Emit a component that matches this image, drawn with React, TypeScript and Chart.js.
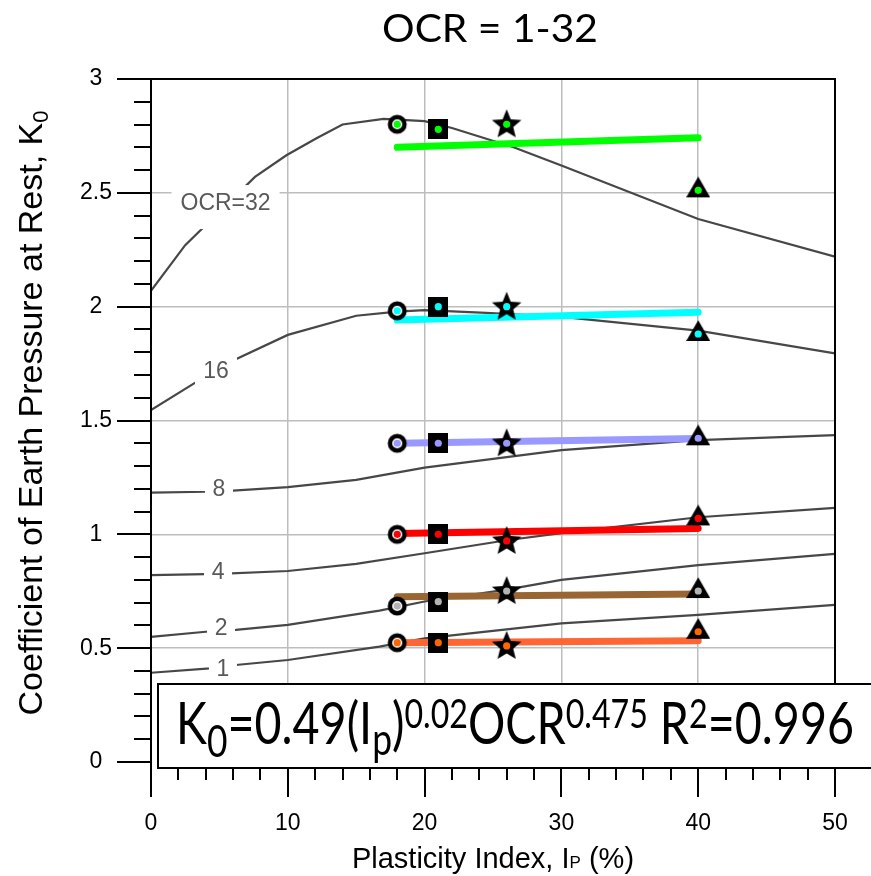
import React, { useEffect, useRef } from "react";
import { Chart, registerables } from "chart.js";

Chart.register(...registerables);

const W = 871;
const H = 876;
const SANS = '"Liberation Sans", Arial, sans-serif';
const CAL = 'Lato, "Open Sans", sans-serif';

// ---- measured data points (Ip in %, K0) ----
const markerIp = [18, 21, 26, 40];
const k0Ocr32 = [2.801, 2.779, 2.801, 2.511];
const k0Ocr16 = [1.982, 2.0, 2.0, 1.88];
const k0Ocr8 = [1.4, 1.4, 1.4, 1.422];
const k0Ocr4 = [1.0, 1.0, 0.971, 1.07];
const k0Ocr2 = [0.685, 0.704, 0.751, 0.751];
const k0Ocr1 = [0.524, 0.524, 0.51, 0.572];

// ---- fitted lines ----
const fitIp = [18, 40];
const fitOcr32 = [2.7, 2.742];
const fitOcr16 = [1.941, 1.975];
const fitOcr8 = [1.4, 1.421];
const fitOcr4 = [1.004, 1.026];
const fitOcr2 = [0.726, 0.738];
const fitOcr1 = [0.524, 0.533];

// ---- OCR contour curves ----
const curve32Ip = [0, 2.5, 7.6, 9.9, 12.1, 14, 17, 20, 22, 26.5, 30, 40, 50];
const curve32K = [2.07, 2.27, 2.57, 2.665, 2.74, 2.8, 2.825, 2.815, 2.785, 2.7, 2.62, 2.385, 2.22];
const curve16Ip = [0, 3.15, 6.2, 10, 15, 18, 20, 24.5, 30, 40, 50];
const curve16K = [1.546, 1.663, 1.769, 1.876, 1.96, 1.978, 1.985, 1.973, 1.955, 1.895, 1.795];
const curve8Ip = [0, 4, 6, 10, 15, 20, 30, 40, 50];
const curve8K = [1.183, 1.187, 1.192, 1.207, 1.239, 1.293, 1.37, 1.414, 1.436];
const curve4Ip = [0, 5, 10, 15, 20, 26, 30, 40, 50];
const curve4K = [0.821, 0.826, 0.839, 0.87, 0.917, 0.974, 1.005, 1.075, 1.116];
const curve2Ip = [0, 4, 6.2, 10, 16.7, 20, 26, 30, 40, 50];
const curve2K = [0.55, 0.572, 0.58, 0.602, 0.665, 0.705, 0.757, 0.8, 0.865, 0.914];
const curve1Ip = [0, 4.3, 6.2, 10, 16.7, 20, 30, 40, 50];
const curve1K = [0.392, 0.411, 0.426, 0.448, 0.507, 0.543, 0.609, 0.646, 0.69];

const contourLabels = ["OCR=32", "16", "8", "4", "2", "1"];
const titleText = "OCR = 1-32";

const dotColors = ["#00ff00", "#00ffff", "#9999ff", "#ff0000", "#b3b3b3", "#ff6600"];
const fitColors = ["#00ff00", "#00ffff", "#9999ff", "#ff0000", "#996633", "#ff6633"];

const toPts = (xs: number[], ys: number[]) => xs.map((v, i) => ({ x: v, y: ys[i] }));

function makeCanvas(w: number, h: number, draw: (c: CanvasRenderingContext2D) => void) {
  const c = document.createElement("canvas");
  c.width = w;
  c.height = h;
  const ctx = c.getContext("2d")!;
  draw(ctx);
  return c;
}

function makeMarkers() {
  const circle = makeCanvas(22, 22, (c) => {
    c.beginPath();
    c.arc(11, 11, 7.3, 0, Math.PI * 2);
    c.fillStyle = "#fff";
    c.fill();
    c.lineWidth = 4.4;
    c.strokeStyle = "#000";
    c.stroke();
  });
  const square = makeCanvas(20, 20, (c) => {
    c.fillStyle = "#000";
    c.fillRect(0, 0, 20, 20);
  });
  const star = makeCanvas(32, 32, (c) => {
    const R = 15.5, r = 6.9;
    c.beginPath();
    for (let i = 0; i < 10; i++) {
      const ang = -Math.PI / 2 + (i * Math.PI) / 5;
      const rad = i % 2 === 0 ? R : r;
      const px = 16 + rad * Math.cos(ang);
      const py = 16.5 + rad * Math.sin(ang);
      if (i === 0) c.moveTo(px, py);
      else c.lineTo(px, py);
    }
    c.closePath();
    c.fillStyle = "#000";
    c.fill();
  });
  const side = 24;
  const th = (side * Math.sqrt(3)) / 2;
  const tri = makeCanvas(24, 28, (c) => {
    const cy = 14;
    c.beginPath();
    c.moveTo(12, cy - (2 * th) / 3);
    c.lineTo(24, cy + th / 3);
    c.lineTo(0, cy + th / 3);
    c.closePath();
    c.fillStyle = "#000";
    c.fill();
  });
  return [circle, square, star, tri];
}

type Run = { t: string; size: number; dy: number };

function runsWidth(ctx: CanvasRenderingContext2D, runs: Run[], family: string) {
  let w = 0;
  runs.forEach((r) => {
    ctx.font = `${r.size}px ${family}`;
    w += ctx.measureText(r.t).width;
  });
  return w;
}

function drawRuns(ctx: CanvasRenderingContext2D, runs: Run[], family: string, x0: number) {
  let cx = x0;
  ctx.textAlign = "left";
  ctx.textBaseline = "alphabetic";
  runs.forEach((r) => {
    ctx.font = `${r.size}px ${family}`;
    ctx.fillText(r.t, cx, r.dy);
    cx += ctx.measureText(r.t).width;
  });
}

const decor = {
  id: "decor",
  afterDraw(chart: any) {
    const { ctx, chartArea: a, scales } = chart;
    const xs = scales.x;
    const ys = scales.y;
    ctx.save();

    // contour labels with white backgrounds
    const spots = [
      { ip: 5.45, k: 2.455, w: 108, h: 44, oy: 4 },
      { ip: 4.75, k: 1.717, w: 42, h: 28, oy: 0 },
      { ip: 4.97, k: 1.2, w: 28, h: 26, oy: 0 },
      { ip: 4.9, k: 0.835, w: 28, h: 26, oy: 0 },
      { ip: 5.12, k: 0.589, w: 28, h: 26, oy: 0 },
      { ip: 5.26, k: 0.409, w: 28, h: 26, oy: 0 },
    ];
    ctx.font = `23px ${SANS}`;
    ctx.textAlign = "center";
    ctx.textBaseline = "middle";
    spots.forEach((s, i) => {
      const px = xs.getPixelForValue(s.ip);
      const py = ys.getPixelForValue(s.k);
      ctx.fillStyle = "#fff";
      ctx.fillRect(px - s.w / 2, py - s.h / 2 + s.oy, s.w, s.h);
      ctx.fillStyle = "#595959";
      ctx.fillText(contourLabels[i], px, py + 1);
    });

    // axes frame and ticks
    const line = (x1: number, y1: number, x2: number, y2: number) => {
      ctx.beginPath();
      ctx.moveTo(x1, y1);
      ctx.lineTo(x2, y2);
      ctx.stroke();
    };
    ctx.strokeStyle = "#000";
    ctx.lineWidth = 2;
    ctx.lineCap = "butt";
    for (let i = 0; i <= 30; i++) {
      const py = Math.round(ys.getPixelForValue(i / 10));
      const len = i % 5 === 0 ? 34 : 17;
      line(a.left - len, py, a.left, py);
    }
    for (let v = 0; v <= 50; v += 2) {
      const px = Math.round(xs.getPixelForValue(v));
      const end = v % 10 === 0 ? a.bottom + 35 : a.bottom + 18;
      line(px, a.bottom + 5, px, end);
    }
    line(a.left, a.top - 1, a.left, a.bottom + 35);
    line(a.left - 34, a.top, a.right + 1, a.top);
    line(a.right, a.top, a.right, a.bottom);

    // equation box
    const boxTop = a.bottom - 78;
    const boxBottom = a.bottom + 6;
    ctx.fillStyle = "#fff";
    ctx.fillRect(158, boxTop, 760, boxBottom - boxTop);
    ctx.strokeRect(158, boxTop, 760, boxBottom - boxTop);
    const eq: Run[] = [
      { t: "K", size: 58, dy: 0 },
      { t: "0", size: 44, dy: 13 },
      { t: "=0.49(I", size: 58, dy: 0 },
      { t: "p", size: 44, dy: 11 },
      { t: ")", size: 58, dy: 0 },
      { t: "0.02", size: 40, dy: -16 },
      { t: "OCR", size: 58, dy: 0 },
      { t: "0.475", size: 40, dy: -16 },
      { t: " R", size: 58, dy: 0 },
      { t: "2", size: 40, dy: -16 },
      { t: "=0.996", size: 58, dy: 0 },
    ];
    const eqW = runsWidth(ctx, eq, CAL);
    ctx.fillStyle = "#000";
    ctx.save();
    ctx.translate(176, boxTop + 60);
    ctx.scale(678 / eqW, 1);
    drawRuns(ctx, eq, CAL, 0);
    ctx.restore();

    // chart title
    const tRuns: Run[] = [{ t: titleText, size: 39, dy: 0 }];
    const tW = runsWidth(ctx, tRuns, CAL);
    ctx.save();
    ctx.translate(490, 42);
    ctx.scale(216 / tW, 1);
    drawRuns(ctx, tRuns, CAL, -tW / 2);
    ctx.restore();

    // x axis title
    const xRuns: Run[] = [
      { t: "Plasticity Index, I", size: 29, dy: 0 },
      { t: "P", size: 17, dy: 0 },
      { t: " (%)", size: 29, dy: 0 },
    ];
    const xW = runsWidth(ctx, xRuns, SANS);
    ctx.save();
    ctx.translate((a.left + a.right) / 2, 868);
    drawRuns(ctx, xRuns, SANS, -xW / 2);
    ctx.restore();

    // y axis title
    const yRuns: Run[] = [
      { t: "Coefficient of Earth Pressure at Rest, K", size: 34, dy: 0 },
      { t: "0", size: 22, dy: 6 },
    ];
    const yW = runsWidth(ctx, yRuns, SANS);
    ctx.save();
    ctx.translate(42, 413);
    ctx.rotate(-Math.PI / 2);
    drawRuns(ctx, yRuns, SANS, -yW / 2);
    ctx.restore();

    ctx.restore();
  },
};

export default function App() {
  const ref = useRef<HTMLCanvasElement>(null);
  useEffect(() => {
    const canvas = ref.current!;
    const markers = makeMarkers();
    const markerSets = [k0Ocr32, k0Ocr16, k0Ocr8, k0Ocr4, k0Ocr2, k0Ocr1];
    const fitSets = [fitOcr32, fitOcr16, fitOcr8, fitOcr4, fitOcr2, fitOcr1];
    const curves = [
      [curve32Ip, curve32K],
      [curve16Ip, curve16K],
      [curve8Ip, curve8K],
      [curve4Ip, curve4K],
      [curve2Ip, curve2K],
      [curve1Ip, curve1K],
    ];
    const datasets: any[] = [];
    markerSets.forEach((vals, i) => {
      datasets.push({
        label: `OCR ${contourLabels[i]} dots`,
        data: toPts(markerIp, vals),
        showLine: false,
        pointStyle: "circle",
        pointRadius: 3.6,
        pointBackgroundColor: dotColors[i],
        pointBorderWidth: 0,
        order: 0,
      });
      datasets.push({
        label: `OCR ${contourLabels[i]} markers`,
        data: toPts(markerIp, vals),
        showLine: false,
        pointStyle: markers,
        pointRadius: 10,
        order: 1,
      });
      datasets.push({
        label: `OCR ${contourLabels[i]} fit`,
        data: toPts(fitIp, fitSets[i]),
        showLine: true,
        borderColor: fitColors[i],
        borderWidth: 7,
        borderCapStyle: "round",
        pointRadius: 0,
        order: 2,
      });
      datasets.push({
        label: `OCR ${contourLabels[i]} curve`,
        data: toPts(curves[i][0], curves[i][1]),
        showLine: true,
        borderColor: "#474747",
        borderWidth: 2.2,
        pointRadius: 0,
        tension: 0,
        order: 3,
      });
    });

    const gridColor = (edgeA: number, edgeB: number) => (c: any) =>
      c.tick && (c.tick.value === edgeA || c.tick.value === edgeB) ? "rgba(0,0,0,0)" : "#bdbdbd";

    const chart = new Chart(canvas, {
      type: "scatter",
      data: { datasets },
      options: {
        animation: false,
        responsive: false,
        devicePixelRatio: 1,
        events: [],
        layout: { padding: { top: 79, right: 36, left: 0, bottom: 0 } },
        plugins: {
          legend: { display: false },
          tooltip: { enabled: false },
          title: { display: false },
        },
        scales: {
          x: {
            type: "linear",
            min: 0,
            max: 50,
            border: { display: false },
            grid: { color: gridColor(0, 50), lineWidth: 1.5, drawTicks: false },
            ticks: {
              stepSize: 10,
              color: "#000",
              font: { family: SANS, size: 23 },
              padding: 48,
              maxRotation: 0,
              autoSkip: false,
            },
            afterFit: (s: any) => {
              s.height = 114;
              s.paddingLeft = 0;
              s.paddingRight = 0;
              s.paddingTop = 0;
              s.paddingBottom = 0;
            },
          },
          y: {
            type: "linear",
            min: 0,
            max: 3,
            border: { display: false },
            grid: { color: gridColor(0, 3), lineWidth: 1.5, drawTicks: false },
            ticks: {
              stepSize: 0.5,
              color: "#000",
              font: { family: SANS, size: 23 },
              padding: 39,
              crossAlign: "center",
              callback: (v: any) => String(Math.round(Number(v) * 10) / 10),
            },
            afterFit: (s: any) => {
              s.width = 151;
              s.paddingLeft = 0;
              s.paddingRight = 0;
              s.paddingTop = 0;
              s.paddingBottom = 0;
            },
          },
        },
      } as any,
      plugins: [decor as any],
    });
    return () => chart.destroy();
  }, []);

  return (
    <div style={{ position: "fixed", left: 0, top: 0, width: W, height: H, background: "#fff" }}>
      <canvas ref={ref} width={W} height={H} style={{ display: "block", width: W, height: H }} />
    </div>
  );
}
